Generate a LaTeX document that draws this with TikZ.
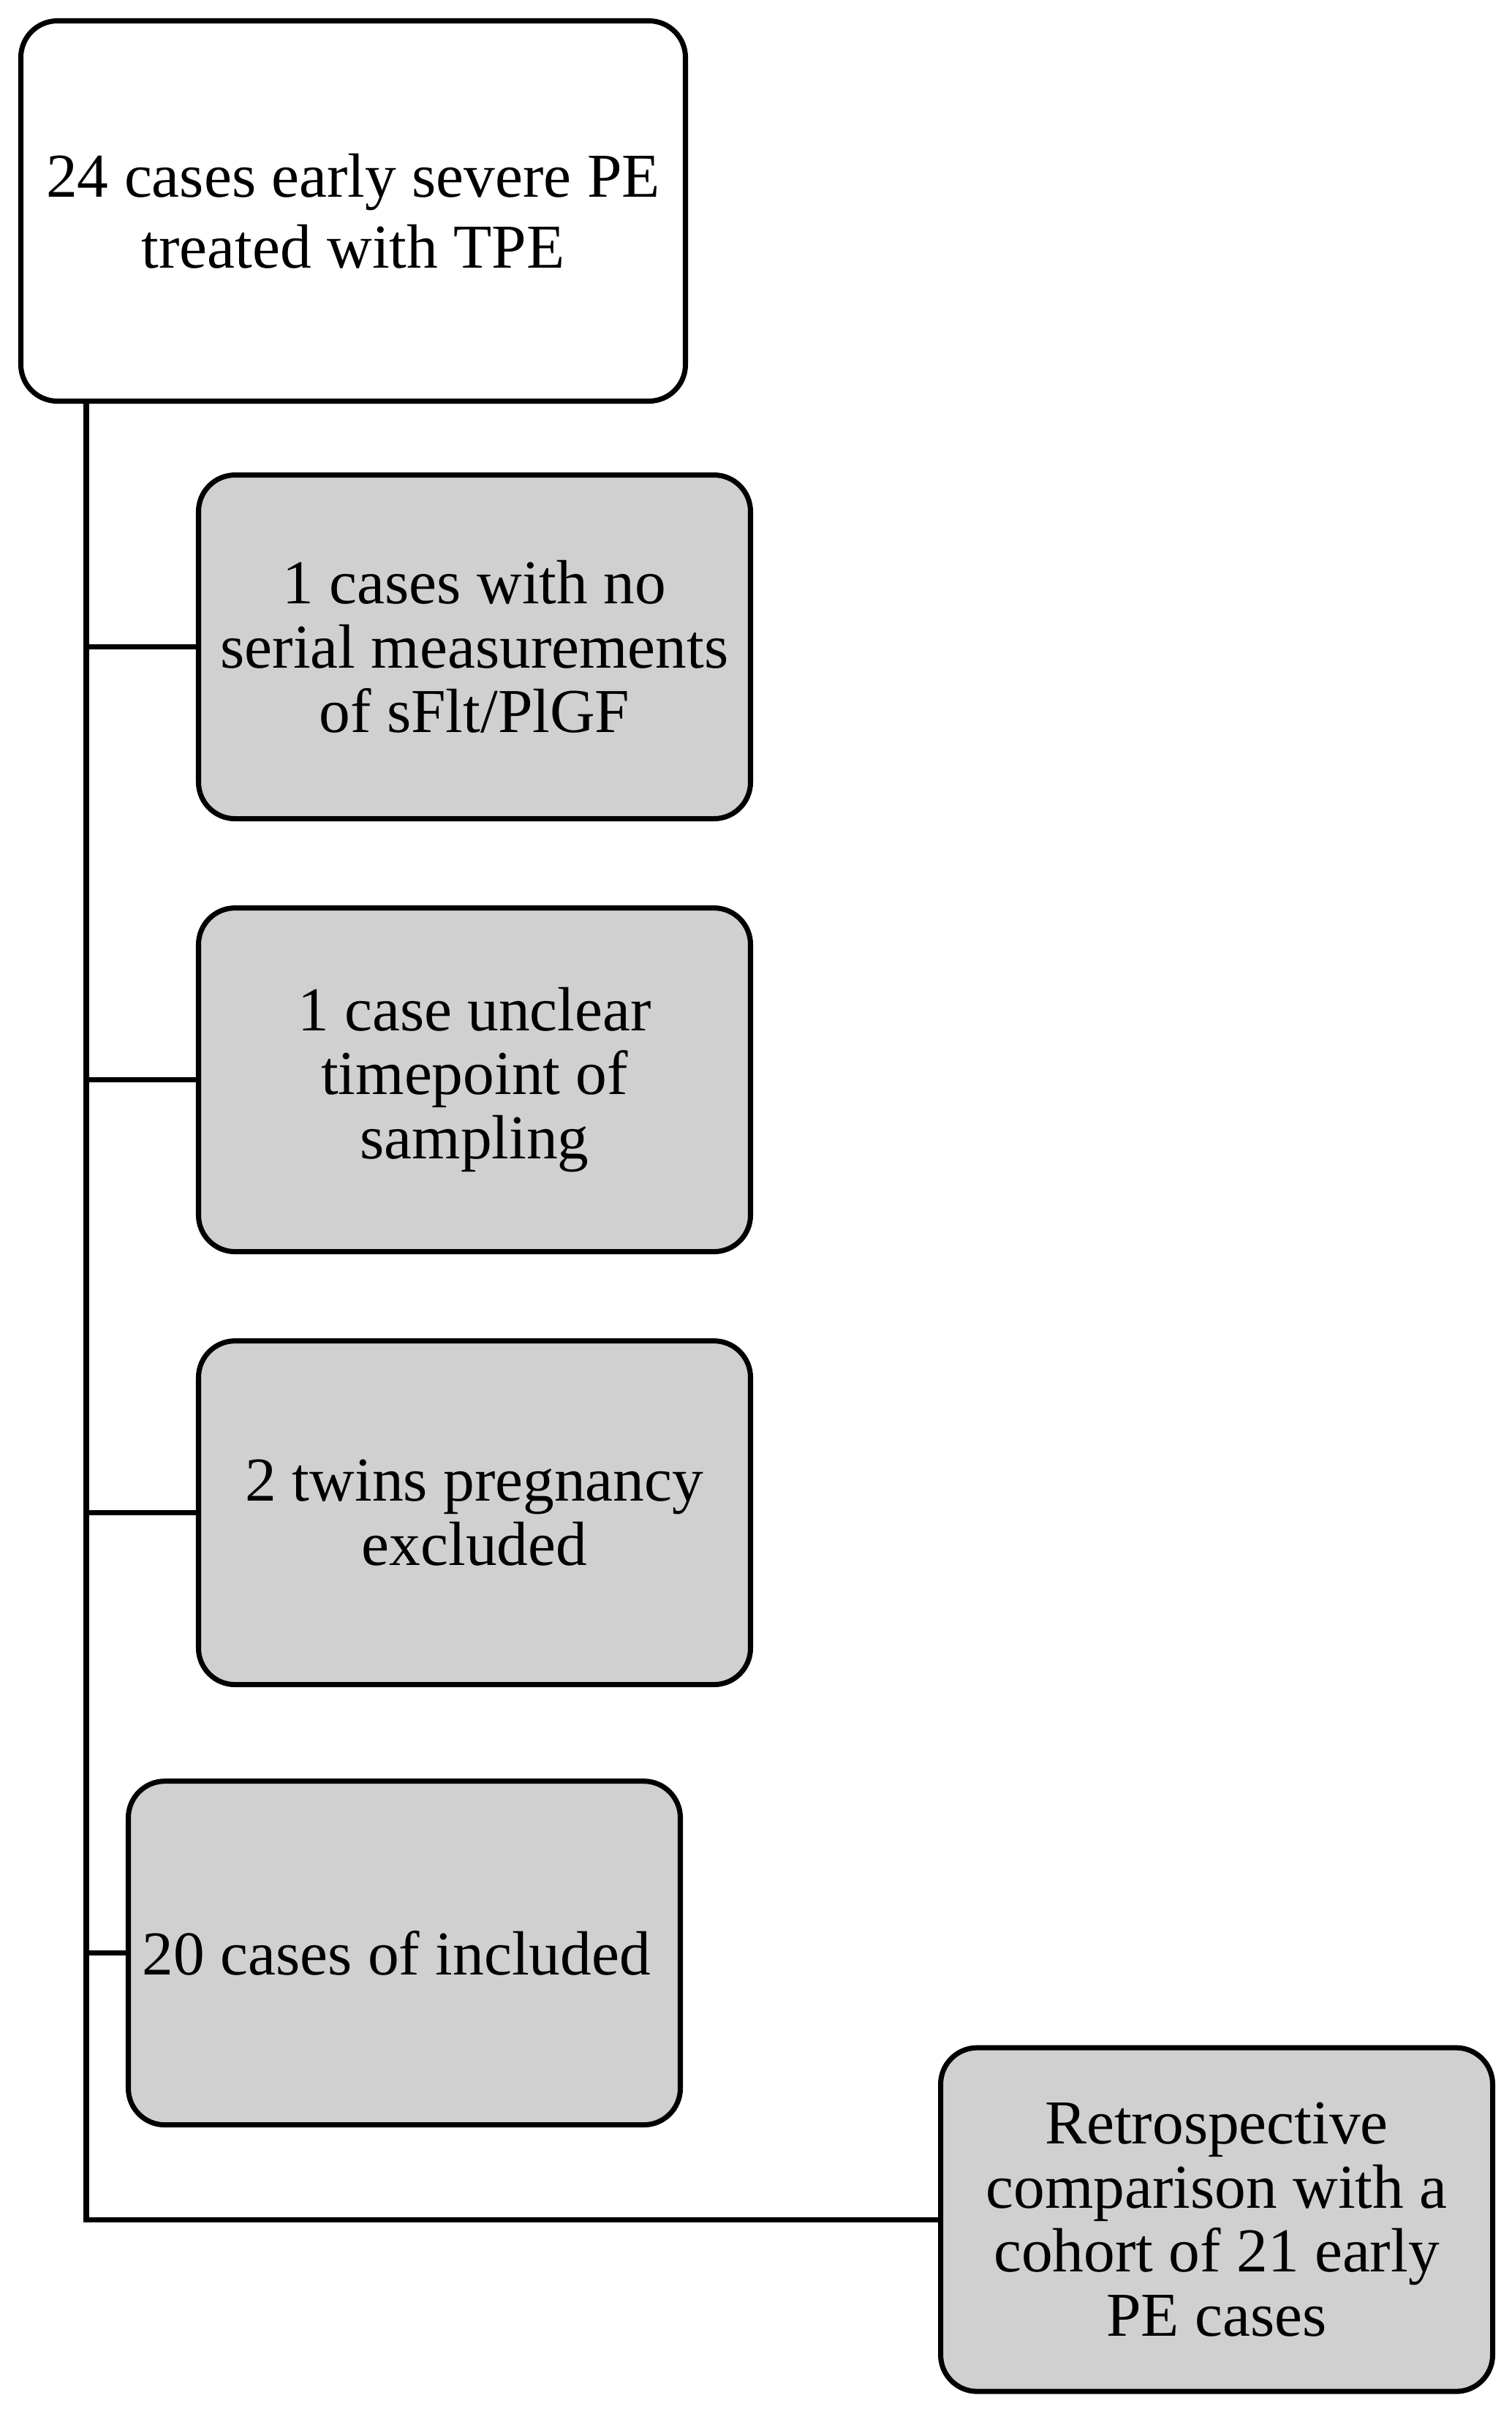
\documentclass[tikz,border=0pt]{standalone}
\usepackage{fontspec}
\setmainfont{Liberation Serif}
\usepackage{tikz}
\usetikzlibrary{shapes,arrows,positioning}
\definecolor{boxgrey}{RGB}{208,208,208}
\tikzstyle{startbox} = [draw, rectangle, rounded corners=0.5cm, line width=2pt, align=center, inner sep=0pt, minimum width=9.09cm, minimum height=5.2cm, font=\fontsize{24.3pt}{27.6pt}\selectfont]
\tikzstyle{greybox} = [draw, rectangle, rounded corners=0.5cm, line width=2pt, fill=boxgrey, align=center, inner sep=0pt, minimum width=7.55cm, minimum height=4.7cm, font=\fontsize{24.3pt}{25pt}\selectfont]
\tikzstyle{link} = [line width=2pt]

\begin{document}
\begin{tikzpicture}
        \useasboundingbox (0,0) rectangle (20.68,-33.01);
        \node [startbox] (first) at (4.83,-2.885) {
            24 cases early severe PE\\treated with TPE
        };
        \node [greybox] [below = 0.94cm of first, xshift=1.66cm] (second) {
            1 cases with no\\serial measurements\\of sFlt/PlGF
        };
        \node [greybox] [below = 1.15cm of second] (third) {
            1 case unclear\\timepoint of\\sampling
        };
        \node [greybox] [below = 1.15cm of third] (fourth) {
            2 twins pregnancy\\excluded
        };
        \node [greybox] [below = 1.25cm of fourth, xshift=-0.96cm] (fifth) {
            20 cases of included
        };
        \node [greybox] [right = 3.49cm of fifth, yshift=-3.645cm] (sixth) {
            Retrospective\\comparison with a\\cohort of 21 early\\PE cases
        };

        \coordinate (trunk) at (1.18,0);
        \draw[link] (first.south -| trunk) |- (sixth.west);
        \draw[link] (second.west -| trunk) -- (second.west);
        \draw[link] (third.west -| trunk) -- (third.west);
        \draw[link] (fourth.west -| trunk) -- (fourth.west);
        \draw[link] (fifth.west -| trunk) -- (fifth.west);
    \end{tikzpicture}
\end{document}
